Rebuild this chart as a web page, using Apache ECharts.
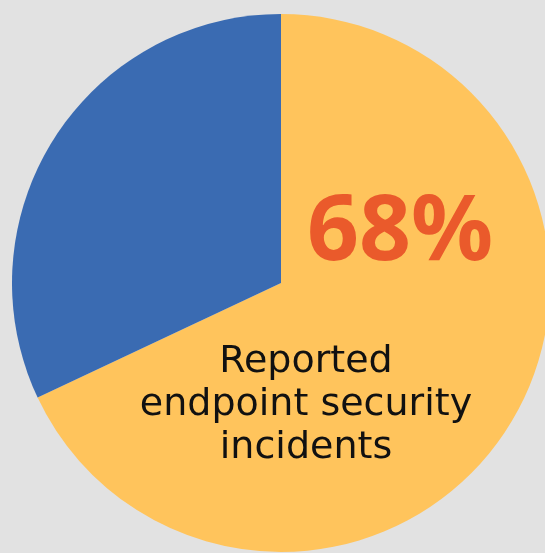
<!DOCTYPE html>
<html>
<head>
<meta charset="utf-8">
<script src="https://cdn.jsdelivr.net/npm/echarts@6/dist/echarts.min.js"></script>
<style>
html,body{margin:0;padding:0;background:#e2e2e2;}
#chart{width:545px;height:553px;}
</style>
</head>
<body>
<div id="chart"></div>
<script>
const categories = ['Reported endpoint security incidents', 'Other'];
const values = [68, 32];
const colors = ['#FFC45C', '#3A6BB2'];
const bigLabel = '68%';
const labelLines = ['Reported', 'endpoint security', 'incidents'];

const chart = echarts.init(document.getElementById('chart'));
chart.setOption({
  backgroundColor: '#e2e2e2',
  animation: false,
  series: [{
    type: 'pie',
    center: [281, 283],
    radius: [0, 269],
    startAngle: 90,
    clockwise: true,
    label: { show: false },
    labelLine: { show: false },
    emphasis: { disabled: true },
    itemStyle: { borderWidth: 0 },
    data: categories.map((c, i) => ({ name: c, value: values[i], itemStyle: { color: colors[i] } }))
  }],
  graphic: [
    {
      type: 'text',
      z: 100,
      x: 400, y: 234,
      style: {
        text: bigLabel,
        fill: '#EA5A2B',
        fontSize: 91,
        fontWeight: 'bold',
        fontFamily: 'Noto Sans',
        textAlign: 'center',
        textVerticalAlign: 'middle'
      }
    },
    {
      type: 'text',
      z: 100,
      x: 306, y: 405,
      style: {
        text: labelLines.join('\n'),
        fill: '#111111',
        fontSize: 38,
        fontFamily: 'DejaVu Sans',
        lineHeight: 43,
        textAlign: 'center',
        textVerticalAlign: 'middle'
      }
    }
  ]
});
</script>
</body>
</html>
